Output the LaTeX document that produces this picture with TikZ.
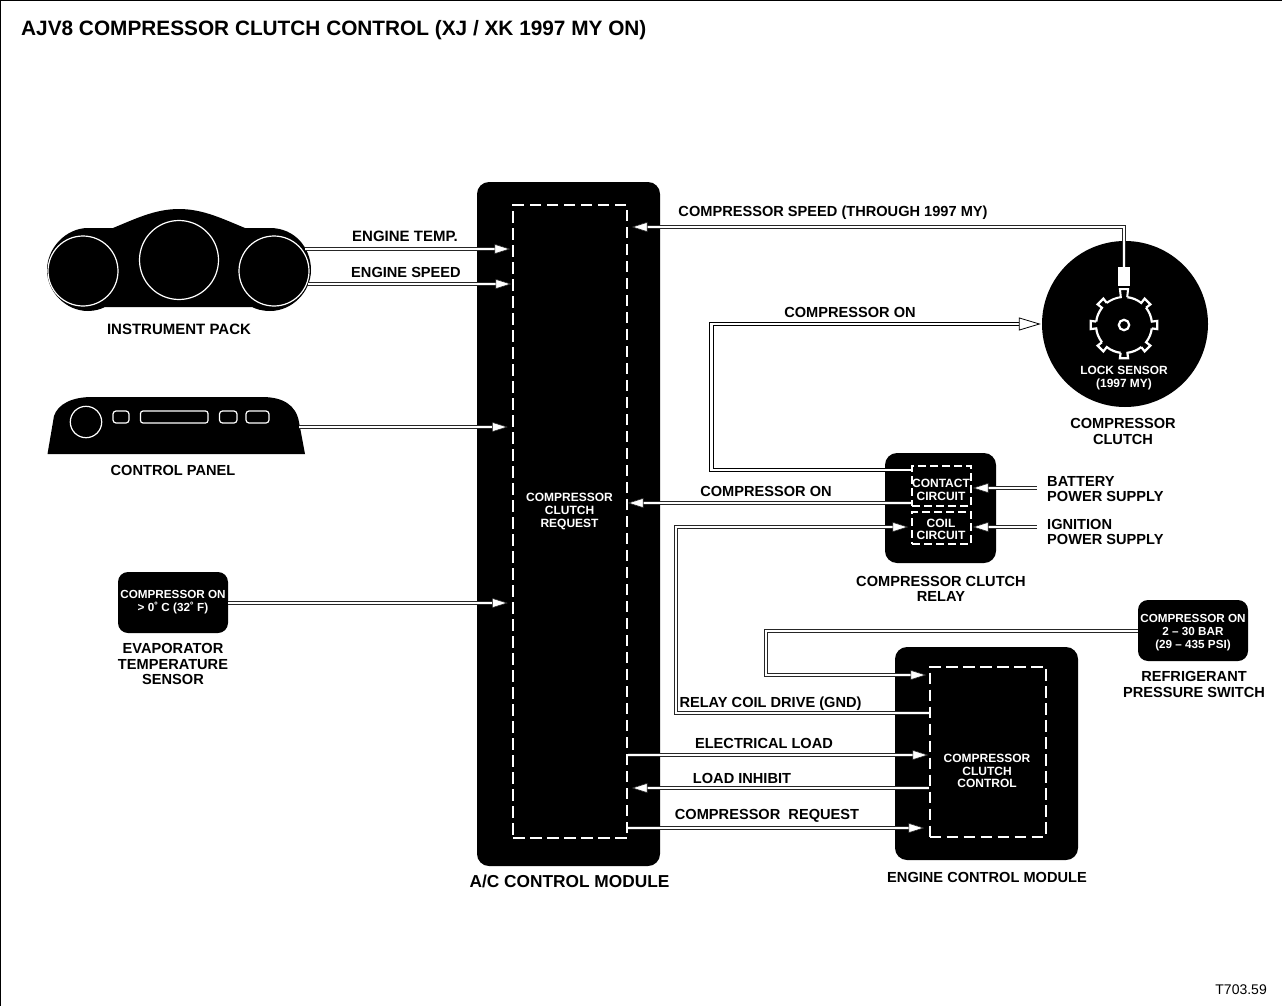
\documentclass[tikz,border=0pt]{standalone}
\usepackage{fontspec}
\setmainfont{Liberation Sans}
\usetikzlibrary{arrows.meta,calc}
\tikzset{
  blk/.style={fill=black,draw=none,rounded corners=#1,inner sep=0pt},
  dashbox/.style={draw=white,line width=2pt,dash pattern=on 11.5pt off 5.5pt,fill=none,inner sep=0pt},
  dashsmall/.style={draw=white,line width=2pt,dash pattern=on 8pt off 4pt,fill=none,inner sep=0pt},
  lab/.style={font=\bfseries\fontsize{14.6}{15.2}\selectfont,text=black,align=center,inner sep=0pt,yshift=-0.5pt},
  labw/.style={lab,font=\bfseries\fontsize{15}{15.2}\selectfont},
  wlab/.style={font=\bfseries\fontsize{12}{12.6}\selectfont,text=white,align=center,inner sep=0pt},
  wlabs/.style={font=\bfseries\fontsize{11.7}{12.8}\selectfont,text=white,align=center,inner sep=0pt},
  wire/.style={draw=black!85,line width=0.9pt,double=white,double distance=2.6pt},
  sig/.style={wire,-{Triangle[length=16pt,width=10pt,fill=white,line width=0.6pt]}},
  hollow/.style={draw=black,line width=0.9pt,double=white,double distance=2.4pt,-{Triangle[length=22pt,width=13pt,fill=white,line width=0.8pt]}},
  wl/.style={draw=white,line width=1.2pt},
  wl2/.style={draw=white,line width=2.2pt},
}
\begin{document}
\begin{tikzpicture}[x=1pt,y=-1pt]
\useasboundingbox (0,0) rectangle (1282,1006);
\draw[black,line width=1.2pt] (0.6,1006) -- (0.6,0.6) -- (1282,0.6);
\node[font=\bfseries\fontsize{20.8}{22}\selectfont,anchor=west,inner sep=0pt] (title) at (21,30) {AJV8 COMPRESSOR CLUTCH CONTROL (XJ / XK 1997 MY ON)};
\node[font=\fontsize{14}{15}\selectfont,anchor=east,inner sep=0pt] (ref) at (1267,990) {T703.59};

% instrument pack
\fill[black] (113,228) .. controls (135,219) and (155,209) .. (179,209) .. controls (203,209) and (223,219) .. (245,228)
  -- (270,228) .. controls (295,228) and (311,248) .. (311,270) .. controls (311,292) and (292,311) .. (270,311)
  .. controls (262,311) and (256,309) .. (252,307) -- (105,307) .. controls (101,309) and (95,311) .. (88,311)
  .. controls (66,311) and (47,292) .. (47,270) .. controls (47,248) and (66,228) .. (88,228) -- cycle;
\draw[wl] (83,271) circle[radius=35];
\draw[wl] (179,260) circle[radius=39.5];
\draw[wl] (274,271) circle[radius=35];
\coordinate (packT) at (305,249);
\coordinate (packS) at (308,284);
\node[labw] (packlab) at (179,329) {INSTRUMENT PACK};

% control panel
\fill[black] (47.5,454) -- (54,416) .. controls (58,404) and (72,397) .. (92,397) -- (262,397)
  .. controls (283,397) and (296,405) .. (299,422) -- (305,454) -- cycle;
\draw[wl] (86,422) circle[radius=15.7];
\draw[wl,rounded corners=3] (113,411) rectangle (129,423);
\draw[wl,rounded corners=2.5] (140.5,411) rectangle (208,423);
\draw[wl,rounded corners=3] (219.5,411) rectangle (237,423);
\draw[wl,rounded corners=3] (246,411) rectangle (269,423);
\coordinate (panelR) at (299,427);
\node[lab] (panellab) at (173,470) {CONTROL PANEL};

% evaporator sensor
\node[blk=10pt,minimum width=110pt,minimum height=61pt] (evap) at (173,602.5) {};
\node[wlabs] (evaptxt) at (173,602.5) {COMPRESSOR ON\\> 0˚ C (32˚ F)};
\node[lab,font=\bfseries\fontsize{14.6}{15.8}\selectfont] (evaplab) at (173,663.5) {EVAPORATOR\\TEMPERATURE\\SENSOR};

% AC module
\node[blk=12pt,minimum width=183pt,minimum height=684pt] (ac) at (568.5,524) {};
\node[dashbox,minimum width=114pt,minimum height=633pt] (acreq) at (570,521.5) {};
\node[wlab] (actxt) at (569.5,511.5) {COMPRESSOR\\CLUTCH\\REQUEST};
\node[lab,font=\bfseries\fontsize{17.3}{18}\selectfont] (aclab) at (569.5,881) {A/C CONTROL MODULE};

% clutch
\node[circle,fill=black,minimum size=166pt,inner sep=0pt] (clutch) at (1125,324) {};
\node[fill=white,minimum width=11.5pt,minimum height=19pt,inner sep=0pt] (sensor) at (1124,276.5) {};
\begin{scope}[shift={(1124,325)},x=1pt,y=1pt]
  \foreach \a in {0,45,135,180,225,270,315}{
    \draw[wl2,line join=miter] (\a-7:28) -- (\a-7:33.5) -- (\a+7:33.5) -- (\a+7:28)
      arc[start angle=\a+7,end angle=\a+38,radius=28];
  }
  \draw[wl2,line width=2pt] (90-6.5:28) -- (90-6.5:36) -- (90+6.5:36) -- (90+6.5:28) arc[start angle=96.5,end angle=128,radius=28];
  \draw[white,line width=2.2pt] (0,0) circle[radius=5.2];
\end{scope}
\node[wlab,font=\bfseries\fontsize{11.9}{13}\selectfont] (locktxt) at (1124,378.5) {LOCK SENSOR\\(1997 MY)};
\node[lab] (clutchlab) at (1123,431) {COMPRESSOR\\CLUTCH};

% relay
\node[blk=12pt,minimum width=111pt,minimum height=110pt] (relay) at (940.5,508) {};
\node[dashsmall,minimum width=59pt,minimum height=40pt] (contact) at (941.5,486) {};
\node[dashsmall,minimum width=59pt,minimum height=32pt] (coil) at (941.5,528) {};
\node[wlab] (contacttxt) at (941,490) {CONTACT\\CIRCUIT};
\node[wlab] (coiltxt) at (941,529.5) {COIL\\CIRCUIT};
\node[lab] (relaylab) at (941,588) {COMPRESSOR CLUTCH\\RELAY};
\coordinate (batt) at (1037,488);
\coordinate (ign) at (1037,527);
\node[lab,align=left,anchor=north west] (battlab) at (1047,475.5) {BATTERY\\POWER SUPPLY};
\node[lab,align=left,anchor=north west] (ignlab) at (1047,518.5) {IGNITION\\POWER SUPPLY};

% refrigerant switch
\node[blk=10pt,minimum width=110pt,minimum height=61pt] (refr) at (1193,630.5) {};
\node[wlabs] (refrtxt) at (1193,632.5) {COMPRESSOR ON\\2 -- 30 BAR\\(29 -- 435 PSI)};
\node[lab] (refrlab) at (1194,684) {REFRIGERANT\\PRESSURE SWITCH};

% ECM
\node[blk=12pt,minimum width=183pt,minimum height=213pt] (ecm) at (986.5,753.5) {};
\node[dashbox,minimum width=116pt,minimum height=170pt] (ecmctl) at (987.5,751.5) {};
\node[wlab] (ecmtxt) at (987,771) {COMPRESSOR\\CLUTCH\\CONTROL};
\node[lab] (ecmlab) at (987,876.5) {ENGINE CONTROL MODULE};

% connectors
\draw[sig] (packT) -- ([xshift=-1.5pt]acreq.west |- packT);
\draw[sig] (packS) -- ([xshift=-0.5pt]acreq.west |- packS);
\draw[sig] (panelR) -- ([xshift=-4pt]acreq.west |- panelR);
\draw[sig] (evap.east |- 0,603) -- ([xshift=-4pt]acreq.west |- 0,603);
\draw[sig] (sensor.north) |- ([xshift=3.5pt]acreq.east |- 0,227);
\draw[hollow] (contact.west |- 0,470) -| (711.5,324) -- ([xshift=-1pt]clutch.west);
\draw[sig] (contact.west |- 0,503) -- ([xshift=-0.5pt]acreq.east |- 0,503);
\draw[sig] (ecmctl.west |- 0,713) -| (676,527) -- ([xshift=-2.5pt]coil.west |- 0,527);
\draw[sig] (refr.west |- 0,631) -| (766,675) -- ([xshift=-2pt]ecmctl.west |- 0,675);
\draw[sig] (batt) -- ([xshift=0.5pt]contact.east |- batt);
\draw[sig] (ign) -- ([xshift=0.5pt]coil.east |- ign);
\draw[sig] (acreq.east |- 0,755) -- ([xshift=0pt]ecmctl.west |- 0,755);
\draw[sig] (ecmctl.west |- 0,788) -- ([xshift=3.5pt]acreq.east |- 0,788);
\draw[sig] (acreq.east |- 0,828) -- ([xshift=-4pt]ecmctl.west |- 0,828);

% connector labels
\node[labw] (l1) at (405,236) {ENGINE TEMP.};
\node[lab] (l2) at (406,272) {ENGINE SPEED};
\node[lab] (l3) at (833,212) {COMPRESSOR SPEED (THROUGH 1997 MY)};
\node[lab] (l4) at (850,312) {COMPRESSOR ON};
\node[lab] (l5) at (766,491) {COMPRESSOR ON};
\node[lab] (l6) at (770.5,703) {RELAY COIL DRIVE (GND)};
\node[lab] (l7) at (764,743) {ELECTRICAL LOAD};
\node[lab] (l8) at (742,778) {LOAD INHIBIT};
\node[lab] (l9) at (767,815) {COMPRESSOR\ \ REQUEST};
\end{tikzpicture}
\end{document}
